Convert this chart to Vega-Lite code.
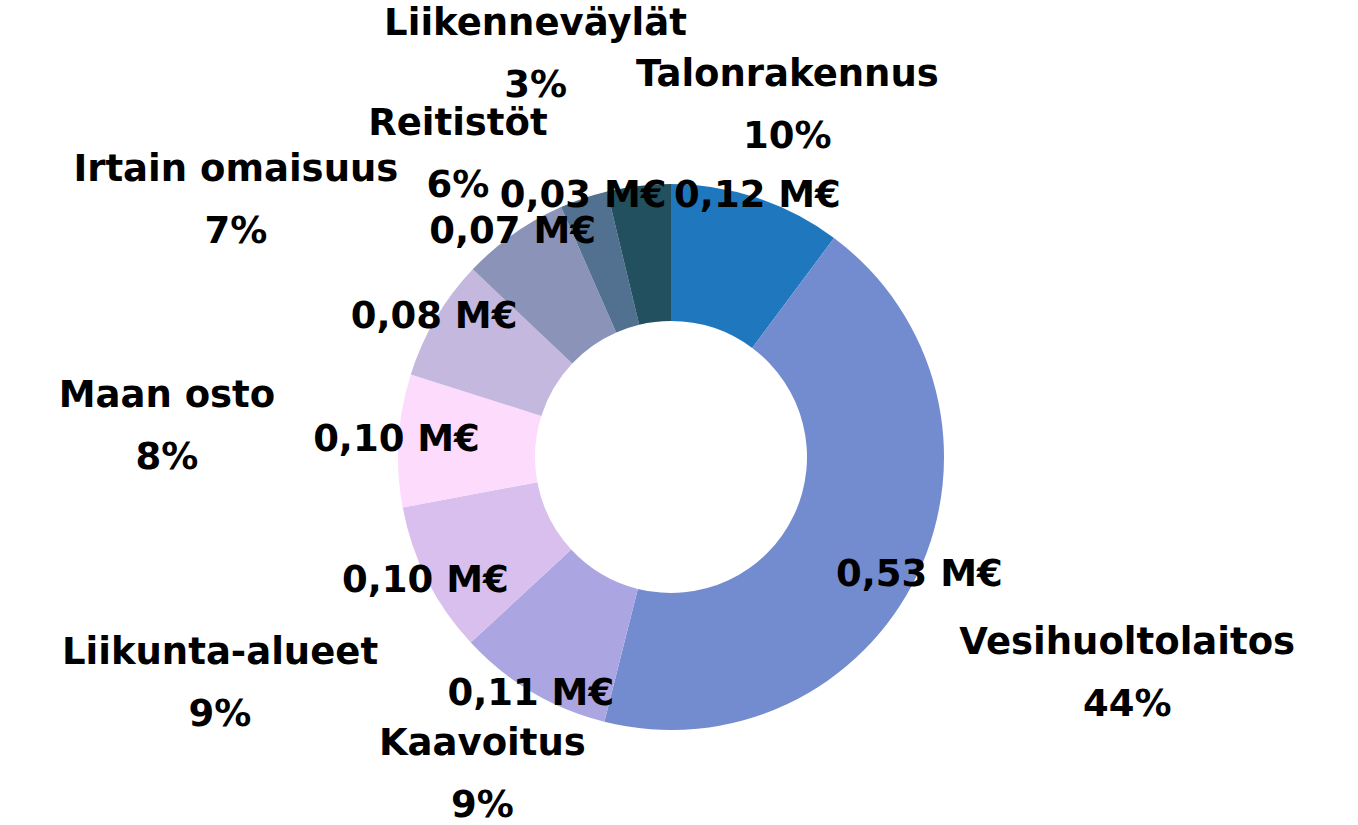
{
  "$schema": "https://vega.github.io/schema/vega-lite/v6.json",
  "width": 1342,
  "height": 736,
  "autosize": {"type": "none"},
  "padding": {"left": 0, "top": 89, "right": 16, "bottom": 0},
  "background": "white",
  "view": {"stroke": null},
  "data": {
    "values": [
      {"n": 1, "kategoria": "Talonrakennus", "arvo": 0.122, "otsikko": "Talonrakennus\n10%", "arvoteksti": "0,12 M€"},
      {"n": 2, "kategoria": "Vesihuoltolaitos", "arvo": 0.524, "otsikko": "Vesihuoltolaitos\n44%", "arvoteksti": "0,53 M€"},
      {"n": 3, "kategoria": "Kaavoitus", "arvo": 0.110, "otsikko": "Kaavoitus\n9%", "arvoteksti": "0,11 M€"},
      {"n": 4, "kategoria": "Liikunta-alueet", "arvo": 0.107, "otsikko": "Liikunta-alueet\n9%", "arvoteksti": "0,10 M€"},
      {"n": 5, "kategoria": "Maan osto", "arvo": 0.094, "otsikko": "Maan osto\n8%", "arvoteksti": "0,10 M€"},
      {"n": 6, "kategoria": "Irtain omaisuus", "arvo": 0.086, "otsikko": "Irtain omaisuus\n7%", "arvoteksti": "0,08 M€"},
      {"n": 7, "kategoria": "Reitistöt", "arvo": 0.076, "otsikko": "Reitistöt\n6%", "arvoteksti": "0,07 M€"},
      {"n": 8, "kategoria": "Liikenneväylät", "arvo": 0.034, "otsikko": "Liikenneväylät\n3%", "arvoteksti": "0,03 M€"},
      {"n": 9, "kategoria": "Muu", "arvo": 0.045, "otsikko": "", "arvoteksti": ""}
    ]
  },
  "encoding": {
    "theta": {"field": "arvo", "type": "quantitative", "stack": true},
    "order": {"field": "n", "type": "quantitative"}
  },
  "layer": [
    {
      "mark": {"type": "arc", "innerRadius": 136, "outerRadius": 273},
      "encoding": {
        "color": {
          "field": "kategoria",
          "type": "nominal",
          "legend": null,
          "scale": {
            "domain": ["Talonrakennus", "Vesihuoltolaitos", "Kaavoitus", "Liikunta-alueet", "Maan osto", "Irtain omaisuus", "Reitistöt", "Liikenneväylät", "Muu"],
            "range": ["#1f77bd", "#738bcf", "#aba6e1", "#d9bfee", "#fddbfc", "#c4b8de", "#8b94b8", "#52708f", "#22505f"]
          }
        }
      }
    },
    {
      "mark": {"type": "text", "radius": 275, "font": "DejaVu Sans", "fontWeight": "bold", "fontSize": 37, "color": "#000000", "baseline": "middle", "align": "center"},
      "encoding": {"text": {"field": "arvoteksti", "type": "nominal"}}
    },
    {
      "mark": {"type": "text", "radius": 370, "dy": -31, "font": "DejaVu Sans", "fontWeight": "bold", "fontSize": 37, "color": "#000000", "baseline": "middle", "align": "center", "lineBreak": "\n", "lineHeight": 62},
      "encoding": {"text": {"condition": {"test": "indexof(['Talonrakennus','Kaavoitus','Reitistöt'], datum.kategoria) >= 0", "field": "otsikko", "type": "nominal"}, "value": ""}}
    },
    {
      "mark": {"type": "text", "radius": 424, "dy": -31, "font": "DejaVu Sans", "fontWeight": "bold", "fontSize": 37, "color": "#000000", "baseline": "middle", "align": "center", "lineBreak": "\n", "lineHeight": 62},
      "encoding": {"text": {"condition": {"test": "datum.kategoria == 'Liikenneväylät'", "field": "otsikko", "type": "nominal"}, "value": ""}}
    },
    {
      "mark": {"type": "text", "radius": 505, "dy": -31, "font": "DejaVu Sans", "fontWeight": "bold", "fontSize": 37, "color": "#000000", "baseline": "middle", "align": "center", "lineBreak": "\n", "lineHeight": 62},
      "encoding": {"text": {"condition": {"test": "indexof(['Vesihuoltolaitos','Liikunta-alueet','Maan osto','Irtain omaisuus'], datum.kategoria) >= 0", "field": "otsikko", "type": "nominal"}, "value": ""}}
    }
  ]
}
